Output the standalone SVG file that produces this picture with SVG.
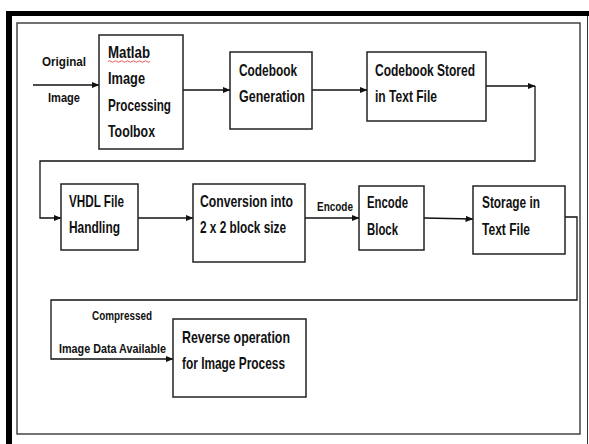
<svg xmlns="http://www.w3.org/2000/svg" width="589" height="444" viewBox="0 0 589 444">
<defs>
<marker id="ah" markerUnits="userSpaceOnUse" markerWidth="8" markerHeight="8" viewBox="0 0 8 8" refX="7.5" refY="4" orient="auto">
<path d="M0,0.8 L8,4 L0,7.2 Z" fill="#111"/>
</marker>
<style>
.box{fill:#fff;stroke:#222;stroke-width:1.5}
.t{font-family:"Liberation Sans",Arial,sans-serif;font-weight:bold;font-size:17px;fill:#111}
.s{font-family:"Liberation Sans",Arial,sans-serif;font-weight:bold;font-size:12px;fill:#111}
.c{fill:none;stroke:#111;stroke-width:1.3}
</style>
</defs>
<rect width="589" height="444" fill="#fff"/>
<g id="frame">
<rect x="6" y="11" width="583" height="5" fill="#000"/>
<rect x="6" y="11" width="6" height="433" fill="#000"/>
<line x1="587.5" y1="16" x2="587.5" y2="444" stroke="#333" stroke-width="1"/>
<rect x="17" y="23" width="563" height="411" fill="none" stroke="#444" stroke-width="1.5"/>
</g>
<g id="connectors">
<line class="c" x1="33" y1="85" x2="99" y2="85" marker-end="url(#ah)"/>
<line class="c" x1="183" y1="90" x2="230" y2="90" marker-end="url(#ah)"/>
<line class="c" x1="312" y1="90" x2="367" y2="90" marker-end="url(#ah)"/>
<line class="c" x1="486" y1="86" x2="535" y2="86" marker-end="url(#ah)"/>
<polyline class="c" points="535,86 535,161 40,161 40,218 61,218" marker-end="url(#ah)"/>
<line class="c" x1="138" y1="218" x2="193" y2="218" marker-end="url(#ah)"/>
<line class="c" x1="305" y1="218" x2="359" y2="218" marker-end="url(#ah)"/>
<line class="c" x1="424" y1="218" x2="473" y2="219" marker-end="url(#ah)"/>
<polyline class="c" points="565,217 577,217 577,300 51,300 51,359 173,359" marker-end="url(#ah)"/>
<text class="s" x="42" y="66" textLength="44" lengthAdjust="spacingAndGlyphs">Original</text>
<text class="s" x="48" y="102" textLength="32" lengthAdjust="spacingAndGlyphs">Image</text>
<text class="s" x="317" y="211" textLength="36" lengthAdjust="spacingAndGlyphs">Encode</text>
<text class="s" x="92" y="320" textLength="60" lengthAdjust="spacingAndGlyphs">Compressed</text>
<text class="s" x="59" y="353" textLength="107" lengthAdjust="spacingAndGlyphs">Image Data Available</text>
</g>
<g id="matlab">
<rect class="box" x="99" y="35" width="84" height="114"/>
<text class="t" x="108" y="58" textLength="42" lengthAdjust="spacingAndGlyphs">Matlab</text>
<path d="M108,61.5 q1.5,-1.5 3,0 t3,0 t3,0 t3,0 t3,0 t3,0 t3,0 t3,0 t3,0 t3,0 t3,0 t3,0 t3,0 t3,0" fill="none" stroke="#e03030" stroke-width="0.8"/>
<text class="t" x="108" y="84" textLength="37" lengthAdjust="spacingAndGlyphs">Image</text>
<text class="t" x="108" y="111" textLength="63" lengthAdjust="spacingAndGlyphs">Processing</text>
<text class="t" x="108" y="137" textLength="47" lengthAdjust="spacingAndGlyphs">Toolbox</text>
</g>
<g id="codebook-gen">
<rect class="box" x="230" y="52" width="82" height="77"/>
<text class="t" x="239" y="76" textLength="58" lengthAdjust="spacingAndGlyphs">Codebook</text>
<text class="t" x="239" y="102" textLength="66" lengthAdjust="spacingAndGlyphs">Generation</text>
</g>
<g id="codebook-stored">
<rect class="box" x="367" y="52" width="119" height="69"/>
<text class="t" x="375" y="76" textLength="100" lengthAdjust="spacingAndGlyphs">Codebook Stored</text>
<text class="t" x="375" y="102" textLength="62" lengthAdjust="spacingAndGlyphs">in Text File</text>
</g>
<g id="vhdl">
<rect class="box" x="61" y="184" width="77" height="66"/>
<text class="t" x="69" y="207" textLength="55" lengthAdjust="spacingAndGlyphs">VHDL File</text>
<text class="t" x="69" y="233" textLength="51" lengthAdjust="spacingAndGlyphs">Handling</text>
</g>
<g id="conversion">
<rect class="box" x="193" y="184" width="112" height="78"/>
<text class="t" x="200" y="207" textLength="93" lengthAdjust="spacingAndGlyphs">Conversion into</text>
<text class="t" x="200" y="233" textLength="86" lengthAdjust="spacingAndGlyphs">2 x 2 block size</text>
</g>
<g id="encode-block">
<rect class="box" x="359" y="186" width="65" height="64"/>
<text class="t" x="367" y="208" textLength="41" lengthAdjust="spacingAndGlyphs">Encode</text>
<text class="t" x="367" y="235" textLength="31" lengthAdjust="spacingAndGlyphs">Block</text>
</g>
<g id="storage">
<rect class="box" x="473" y="186" width="92" height="68"/>
<text class="t" x="482" y="208" textLength="58" lengthAdjust="spacingAndGlyphs">Storage in</text>
<text class="t" x="482" y="235" textLength="48" lengthAdjust="spacingAndGlyphs">Text File</text>
</g>
<g id="reverse">
<rect class="box" x="173" y="319" width="133" height="78"/>
<text class="t" x="182" y="343" textLength="108" lengthAdjust="spacingAndGlyphs">Reverse operation</text>
<text class="t" x="182" y="369" textLength="103" lengthAdjust="spacingAndGlyphs">for Image Process</text>
</g>
</svg>
